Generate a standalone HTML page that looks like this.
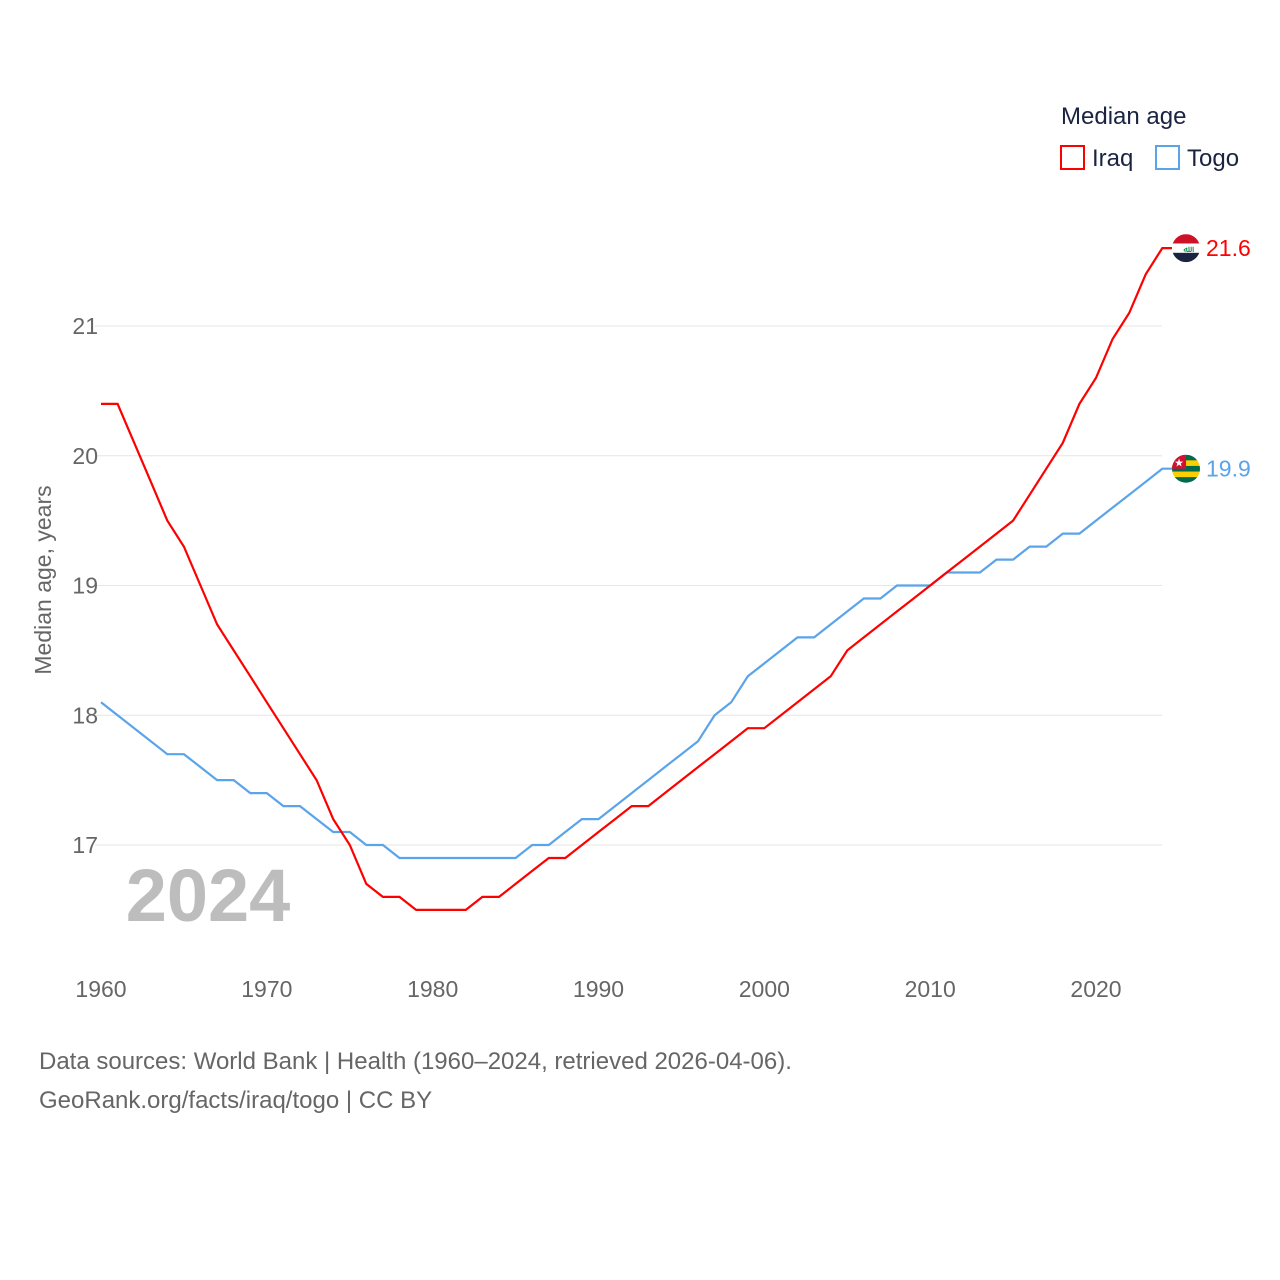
<!DOCTYPE html>
<html><head><meta charset="utf-8"><style>
body{margin:0;background:#fff;font-family:"Liberation Sans",sans-serif}
svg{display:block}
</style></head><body>
<svg id="c" width="1280" height="1280" font-family="Liberation Sans, sans-serif"></svg>
<script>
const years=[];for(let y=1960;y<=2024;y++)years.push(y);
const iraq=[20.4,20.4,20.1,19.8,19.5,19.3,19.0,18.7,18.5,18.3,18.1,17.9,17.7,17.5,17.2,17.0,16.7,16.6,16.6,16.5,16.5,16.5,16.5,16.6,16.6,16.7,16.8,16.9,16.9,17.0,17.1,17.2,17.3,17.3,17.4,17.5,17.6,17.7,17.8,17.9,17.9,18.0,18.1,18.2,18.3,18.5,18.6,18.7,18.8,18.9,19.0,19.1,19.2,19.3,19.4,19.5,19.7,19.9,20.1,20.4,20.6,20.9,21.1,21.4,21.6];
const togo=[18.1,18.0,17.9,17.8,17.7,17.7,17.6,17.5,17.5,17.4,17.4,17.3,17.3,17.2,17.1,17.1,17.0,17.0,16.9,16.9,16.9,16.9,16.9,16.9,16.9,16.9,17.0,17.0,17.1,17.2,17.2,17.3,17.4,17.5,17.6,17.7,17.8,18.0,18.1,18.3,18.4,18.5,18.6,18.6,18.7,18.8,18.9,18.9,19.0,19.0,19.0,19.1,19.1,19.1,19.2,19.2,19.3,19.3,19.4,19.4,19.5,19.6,19.7,19.8,19.9];
const yTicks=[17,18,19,20,21];
const xTicks=[1960,1970,1980,1990,2000,2010,2020];
const X=y=>101+(y-1960)*(995/60);
const Y=v=>845-(v-17)*129.75;
const svg=document.getElementById('c');const NS='http://www.w3.org/2000/svg';
function el(t,a,txt,parent){const e=document.createElementNS(NS,t);for(const k in a)e.setAttribute(k,a[k]);if(txt!=null)e.textContent=txt;(parent||svg).appendChild(e);return e;}
const defs=el('defs',{});
yTicks.forEach(t=>{
 const l=el('line',{x1:95,x2:1162,y1:Y(t),y2:Y(t),stroke:'#e6e6e6','stroke-width':1});
 
 
 const tx=el('text',{x:98,y:Y(t)+8,'text-anchor':'end','font-size':23,fill:'#666'},t);
 
 
});
xTicks.forEach(t=>{
 const tx=el('text',{x:X(t),y:997,'text-anchor':'middle','font-size':23,fill:'#666'},t);
 
 
});
const yt=el('text',{x:0,y:0,transform:'translate(51,580) rotate(-90)','text-anchor':'middle','font-size':23,fill:'#666'},'Median age, years');


const yr=el('text',{x:208,y:921,'text-anchor':'middle','font-size':74,'font-weight':'bold',fill:'#bdbdbd'},'2024');


function series(d,col,name,stripes){
 const p=el('path',{d:d.map((v,i)=>(i?'L':'M')+X(years[i]).toFixed(1)+' '+Y(v).toFixed(1)).join('')+'H1172',fill:'none',stroke:col,'stroke-width':2.2});
 
 
 const v=d[d.length-1];
 const cy=Y(v);
 const cp=el('clipPath',{id:'cp-'+name},null,defs);
 el('circle',{cx:1186,cy:cy,r:14},null,cp);
 const g=el('g',{'clip-path':'url(#cp-'+name+')'});
 
 
 const h=28/stripes.length;
 stripes.forEach((c,i)=>el('rect',{x:1172,y:cy-14+i*h,width:28,height:h+0.5,fill:c},null,g));
 if(name==='togo'){el('rect',{x:1172,y:cy-14,width:14,height:14,fill:'#d21034'},null,g);el('text',{x:1179,y:cy-2,'text-anchor':'middle','font-size':11,fill:'#fff'},'★',g);}
 if(name==='iraq'){el('text',{x:1186,y:cy+4,'text-anchor':'middle','font-size':9,fill:'#007a3d'},'ﷲ',g);}
 const lab=el('text',{x:1206,y:cy+8,'font-size':23,fill:col},v.toFixed(1));
 
 
}
series(togo,'#5ba4ea','togo',['#006a4e','#ffce00','#006a4e','#ffce00','#006a4e']);
series(iraq,'#ff0000','iraq',['#ce1126','#ffffff','#1a2440']);
const lt=el('text',{x:1061,y:124,'font-size':24,fill:'#1a2440'},'Median age');


[['Iraq','#ff0000',1061],['Togo','#5ba4ea',1156]].forEach(([n,c,x])=>{
 const r=el('rect',{x:x,y:146,width:23,height:23,fill:'none',stroke:c,'stroke-width':2});
 
 
 const t=el('text',{x:x+31,y:166,'font-size':24,fill:'#1a2440'},n);
 
 
});
const s1=el('text',{x:39,y:1069,'font-size':24,fill:'#666'},'Data sources: World Bank | Health (1960–2024, retrieved 2026-04-06).');


const s2=el('text',{x:39,y:1108,'font-size':24,fill:'#666'},'GeoRank.org/facts/iraq/togo | CC BY');


</script>
</body></html>
